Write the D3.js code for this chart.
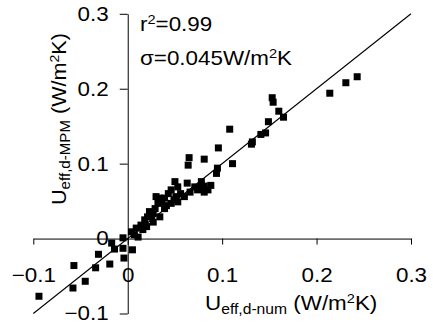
<!DOCTYPE html>
<html>
<head>
<meta charset="utf-8">
<script src="https://cdn.jsdelivr.net/npm/d3@7"></script>
<style>
  html, body { margin: 0; padding: 0; background: #fff; }
  svg { display: block; font-family: "Liberation Sans", Arial, sans-serif; }
</style>
</head>
<body>
<svg id="chart" width="433" height="328"></svg>
<script>
// U_eff,d-num (x) and U_eff,d-MPM (y), W/m2K
const xValues = [
  -0.094, -0.057, -0.058, -0.045, -0.034, -0.031, -0.019, -0.017, -0.014, -0.005, -0.004, 0.005, -0.005,
  0.004, 0.007, 0.011, 0.009, 0.014, 0.020, 0.018, 0.021, 0.027, 0.023, 0.027, 0.034, 0.029, 0.039,
  0.032, 0.036, 0.030, 0.034, 0.039, 0.046, 0.053, 0.043, 0.046, 0.051, 0.060, 0.050, 0.053, 0.063,
  0.071, 0.074, 0.078, 0.081, 0.085, 0.081, 0.088, 0.094, 0.095, 0.065, 0.064, 0.081, 0.111, 0.096,
  0.108, 0.016, 0.025, 0.041, 0.056, 0.066, 0.076, 0.049,
  0.131, 0.132, 0.141, 0.146, 0.149, 0.160, 0.165, 0.153, 0.154, 0.214, 0.231, 0.243
];
const yValues = [
  -0.077, -0.036, -0.066, -0.057, -0.039, -0.021, -0.034, -0.006, -0.014, -0.013, -0.026, -0.015, 0.001,
  0.009, 0.005, 0.002, 0.014, 0.018, 0.016, 0.025, 0.029, 0.022, 0.036, 0.034, 0.029, 0.040, 0.040,
  0.047, 0.049, 0.056, 0.054, 0.054, 0.047, 0.049, 0.060, 0.065, 0.056, 0.056, 0.076, 0.069, 0.074,
  0.069, 0.065, 0.076, 0.070, 0.065, 0.062, 0.071, 0.087, 0.094, 0.108, 0.098, 0.106, 0.100, 0.121,
  0.146, 0.012, 0.030, 0.044, 0.060, 0.062, 0.067, 0.052,
  0.126, 0.129, 0.139, 0.141, 0.156, 0.170, 0.162, 0.188, 0.182, 0.194, 0.208, 0.216
];
const xTicks = [-0.1, 0, 0.1, 0.2, 0.3];
const yTicks = [-0.1, 0, 0.1, 0.2, 0.3];
const fitLine = [-0.1, 0.3]; // 1:1 line
const notes = { r2: "0.99", sigma: "0.045" };

const data = xValues.map((v, i) => ({ x: v, y: yValues[i] }));

const svg = d3.select("#chart");
const stretch = "scale(1.12,1)";
const fs = 20;

const x = d3.scaleLinear().domain([-0.1, 0.3]).range([33.3, 411]);
const y = d3.scaleLinear().domain([-0.1, 0.3]).range([313.5, 13.8]);
const fmt = (d) => (d === 0 ? "0" : d3.format(".1f")(d));

// 1:1 line
svg
  .append("line")
  .attr("x1", x(fitLine[0]))
  .attr("y1", y(fitLine[0]))
  .attr("x2", x(fitLine[1]))
  .attr("y2", y(fitLine[1]))
  .attr("stroke", "#000")
  .attr("stroke-width", 1.1);

// axes
const xAxis = (g) =>
  g
    .attr("transform", `translate(0,${y(0)})`)
    .call(
      d3.axisBottom(x).tickValues(xTicks).tickSize(6).tickSizeOuter(0).tickPadding(23).tickFormat(fmt)
    )
    .call((g) => g.selectAll("path,line").attr("stroke", "#000"))
    .call((g) =>
      g
        .selectAll("text")
        .attr("fill", "#000")
        .style("font-size", fs + "px")
        .attr("transform", stretch)
    );

const yAxis = (g) =>
  g
    .attr("transform", `translate(${x(0)},0)`)
    .call(
      d3.axisLeft(y).tickValues(yTicks).tickSize(8).tickSizeOuter(0).tickPadding(9).tickFormat(fmt)
    )
    .call((g) => g.selectAll("path,line").attr("stroke", "#000"))
    .call((g) =>
      g
        .selectAll("text")
        .attr("fill", "#000")
        .style("font-size", fs + "px")
        .attr("transform", stretch)
    );

svg.append("g").attr("class", "x-axis").call(xAxis);
svg.append("g").attr("class", "y-axis").call(yAxis);

// points
const m = 7;
svg
  .append("g")
  .selectAll("rect")
  .data(data)
  .join("rect")
  .attr("x", (d) => x(d.x) - m / 2)
  .attr("y", (d) => y(d.y) - m / 2)
  .attr("width", m)
  .attr("height", m)
  .attr("fill", "#000");

// unit label: U_sub (W/m²K)
const unitLabel = (t, sub) => {
  t.append("tspan").text("U");
  t.append("tspan").attr("dy", 4).style("font-size", "14px").text(sub);
  t.append("tspan").attr("dy", -4).text(" (W/m");
  t.append("tspan").attr("dy", -7).style("font-size", "13px").text("2");
  t.append("tspan").attr("dy", 7).text("K)");
};

svg
  .append("text")
  .attr("transform", `translate(205,310) ${stretch}`)
  .style("font-size", fs + "px")
  .call(unitLabel, "eff,d-num");

svg
  .append("text")
  .attr("transform", `translate(66,205) rotate(-90) scale(1.08,1)`)
  .style("font-size", fs + "px")
  .call(unitLabel, "eff,d-MPM");

// annotations
const r2 = svg
  .append("text")
  .attr("transform", `translate(140,31) ${stretch}`)
  .style("font-size", fs + "px");
r2.append("tspan").text("r");
r2.append("tspan").attr("dy", -7).style("font-size", "13px").text("2");
r2.append("tspan").attr("dy", 7).text("=" + notes.r2);

const sg = svg
  .append("text")
  .attr("transform", `translate(140,65) ${stretch}`)
  .style("font-size", fs + "px");
sg.append("tspan").text("\u03c3=" + notes.sigma + "W/m");
sg.append("tspan").attr("dy", -7).style("font-size", "13px").text("2");
sg.append("tspan").attr("dy", 7).text("K");
</script>
</body>
</html>
